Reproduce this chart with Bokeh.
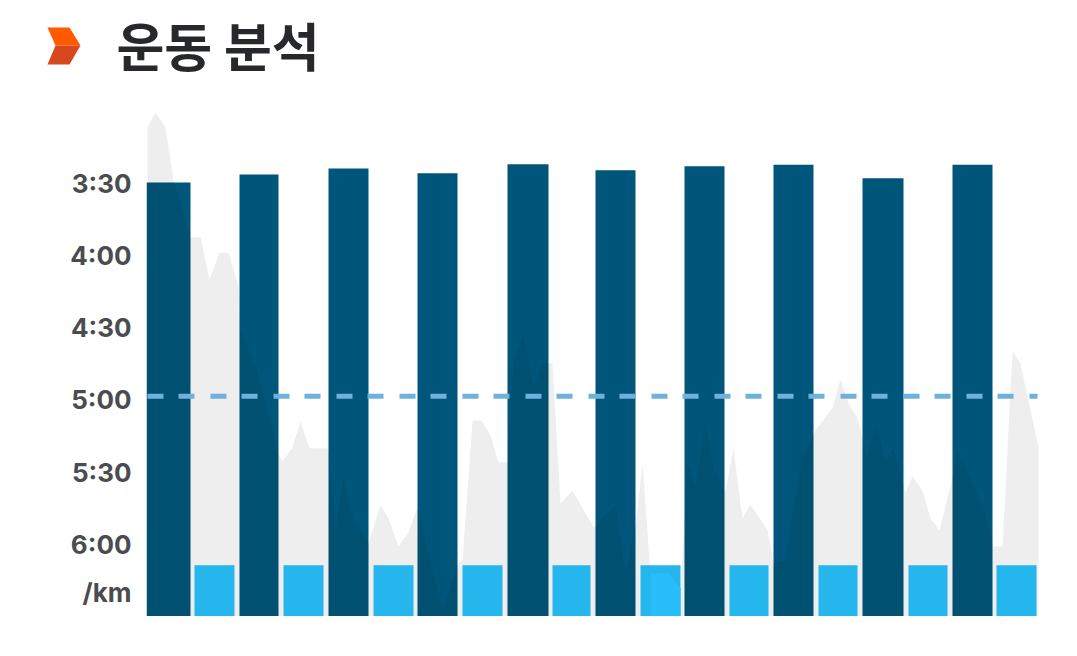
from bokeh.plotting import figure
from bokeh.layouts import column
from bokeh.models import Range1d, FixedTicker
from bokeh.core.properties import value
from bokeh.embed import file_html
from bokeh.resources import INLINE

# distance units along the workout; pace in seconds per km
run_left = [-1, 92, 181, 270, 360, 448, 537, 626, 715, 805]
run_right = [43, 131, 221, 310, 401, 488, 577, 666, 756, 845]
run_pace = [209.6, 206.3, 203.8, 205.8, 202.1, 204.6, 202.9, 202.3, 207.9, 202.3]
rest_left = [47, 136, 226, 315, 405, 493, 582, 671, 761, 849]
rest_right = [87, 176, 266, 355, 443, 533, 621, 710, 800, 889]
rest_pace = [368.7] * 10
floor_pace = 390
target_pace = 298.5

hr_x = [0, 8, 18, 26, 43, 53, 62, 72, 81, 91, 93, 108, 131, 135, 145, 153, 162, 181, 188, 196, 206, 221,
        233, 241, 251, 261, 270, 295, 311, 315, 325, 334, 343, 351, 360, 366, 376, 386, 395, 405, 413, 425,
        446, 468, 478, 488, 495, 503, 521, 533, 540, 548, 558, 566, 578, 586, 595, 603, 620, 626, 638, 655,
        668, 685, 693, 701, 710, 720, 728, 738, 746, 758, 765, 775, 783, 792, 805, 810, 820, 835, 846, 855,
        865, 873, 891]
hr_pace = [186.7, 180.5, 186.7, 208.8, 232.4, 232.4, 249.9, 238.7, 238.7, 252.4, 271.1, 285.6, 322.2, 325.5, 319.7, 308.9, 320.1, 320.1, 354.2, 333.4, 350.0, 359.6,
           343.8, 349.2, 360.8, 355.0, 344.6, 387.4, 367.9, 366.6, 308.5, 308.5, 314.7, 325.9, 325.9, 284.8, 272.3, 294.8, 284.8, 284.8, 343.0, 337.6,
           352.9, 343.8, 372.0, 352.9, 326.3, 372.0, 372.0, 378.3, 326.3, 336.3, 308.5, 329.2, 337.6, 320.1, 349.2, 343.4, 354.2, 367.9, 366.6, 323.8,
           312.6, 303.1, 291.4, 301.4, 307.6, 323.8, 309.3, 325.1, 319.7, 338.8, 331.7, 337.6, 349.2, 354.2, 332.2, 320.9, 330.5, 343.8, 360.8, 360.8,
           279.8, 284.8, 319.7]
glow_x = [503, 521, 533]
glow_pace = [372.0, 372.0, 378.3]

tick_paces = [210, 240, 270, 300, 330, 360, 380]
tick_labels = ["3:30", "4:00", "4:30", "5:00", "5:30", "6:00", "/km"]
title_text = "운동 분석"

header = figure(width=1061, height=96, output_backend="svg", toolbar_location=None,
                x_range=Range1d(0, 1061), y_range=Range1d(96, 0),
                min_border=0, outline_line_color=None)
header.frame_align = False
header.axis.visible = False
header.grid.visible = False
header.patch(x=[47, 69, 80, 55], y=[27, 27, 45, 45], fill_color="#FF5A00", line_color=None)
header.patch(x=[55, 80, 69, 47], y=[45, 45, 64, 64], fill_color="#D9481C", line_color=None)
header.text(x=[116], y=[44], text=[title_text], text_font=value("Noto Sans CJK KR"),
            text_font_style="bold", text_font_size="52px", text_color="#26282C",
            text_baseline="middle", text_align="left")

p = figure(width=1061, height=520, output_backend="svg", toolbar_location=None,
           x_range=Range1d(-1, 914), y_range=Range1d(390, 173.9),
           min_border_left=146, min_border_right=0, min_border_top=0, min_border_bottom=0,
           outline_line_color=None, background_fill_color="white", border_fill_color="white")
p.frame_align = False
p.xaxis.visible = False
p.xgrid.visible = False
p.ygrid.visible = False
ax = p.yaxis[0]
ax.ticker = FixedTicker(ticks=tick_paces)
ax.major_label_overrides = dict(zip(tick_paces, tick_labels))
ax.axis_line_color = None
ax.major_tick_line_color = None
ax.minor_tick_line_color = None
ax.major_label_standoff = 9
ax.major_label_text_font = "Inter"
ax.major_label_text_font_style = "bold"
ax.major_label_text_font_size = "26px"
ax.major_label_text_color = "#4A4C50"

p.quad(left=run_left, right=run_right, top=run_pace, bottom=floor_pace, fill_color="#00567A", line_color=None)
p.varea(x=hr_x, y1=hr_pace, y2=[floor_pace] * len(hr_x), fill_color="black", fill_alpha=0.065)
p.quad(left=rest_left, right=rest_right, top=rest_pace, bottom=floor_pace, fill_color="#25B6EE", line_color=None)
p.varea(x=glow_x, y1=glow_pace, y2=[floor_pace] * len(glow_x), fill_color="#27BEF9")
p.line(x=[0, 890], y=[target_pace, target_pace], line_color="#6FB1DC", line_width=5, line_dash="16 15 16 16")

open("out.html", "w").write(file_html(column(header, p), INLINE))
